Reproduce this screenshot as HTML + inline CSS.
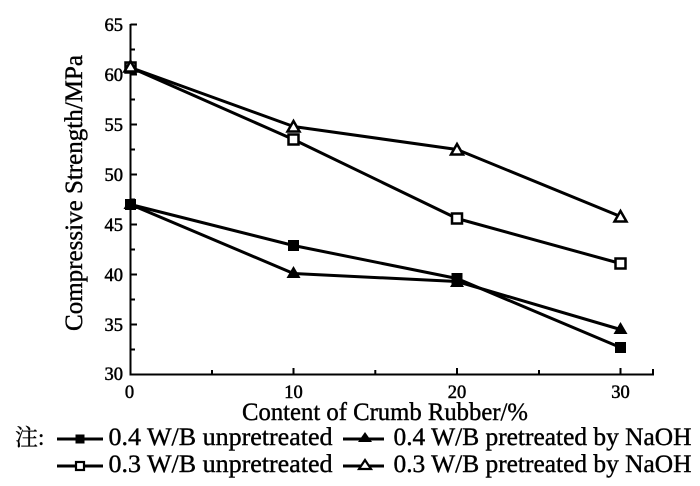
<!DOCTYPE html>
<html>
<head>
<meta charset="utf-8">
<style>
  html,body{margin:0;padding:0;background:#fff;}
  svg{display:block;}
  text{font-family:"Liberation Serif","Noto Serif CJK SC",serif;fill:#000;}
</style>
</head>
<body>
<svg width="700" height="486" viewBox="0 0 700 486" xmlns="http://www.w3.org/2000/svg">
  <rect width="700" height="486" fill="#fff"/>

  <!-- axes -->
  <g stroke="#000" stroke-width="2" fill="none">
    <line x1="130.5" y1="24" x2="130.5" y2="375"/>
    <line x1="129.5" y1="374.5" x2="654" y2="374.5"/>
    <line x1="130.5" y1="24.5" x2="137" y2="24.5"/>
    <line x1="130.5" y1="74.5" x2="137" y2="74.5"/>
    <line x1="130.5" y1="124.5" x2="137" y2="124.5"/>
    <line x1="130.5" y1="174.5" x2="137" y2="174.5"/>
    <line x1="130.5" y1="224.5" x2="137" y2="224.5"/>
    <line x1="130.5" y1="274.5" x2="137" y2="274.5"/>
    <line x1="130.5" y1="324.5" x2="137" y2="324.5"/>
    <line x1="130.5" y1="49.5" x2="135" y2="49.5"/>
    <line x1="130.5" y1="99.5" x2="135" y2="99.5"/>
    <line x1="130.5" y1="149.5" x2="135" y2="149.5"/>
    <line x1="130.5" y1="199.5" x2="135" y2="199.5"/>
    <line x1="130.5" y1="249.5" x2="135" y2="249.5"/>
    <line x1="130.5" y1="299.5" x2="135" y2="299.5"/>
    <line x1="130.5" y1="349.5" x2="135" y2="349.5"/>
    <line x1="293.5" y1="374.5" x2="293.5" y2="368"/>
    <line x1="457" y1="374.5" x2="457" y2="368"/>
    <line x1="620.5" y1="374.5" x2="620.5" y2="368"/>
    <line x1="212" y1="374.5" x2="212" y2="370"/>
    <line x1="375.3" y1="374.5" x2="375.3" y2="370"/>
    <line x1="539" y1="374.5" x2="539" y2="370"/>
    <line x1="653" y1="375" x2="653" y2="369"/>
  </g>

  <!-- y tick labels -->
  <g font-size="18.5" text-anchor="end" stroke="#000" stroke-width="0.5">
    <text x="123" y="31">65</text>
    <text x="123" y="81">60</text>
    <text x="123" y="131">55</text>
    <text x="123" y="181">50</text>
    <text x="123" y="231">45</text>
    <text x="123" y="281">40</text>
    <text x="123" y="331">35</text>
    <text x="123" y="380">30</text>
  </g>
  <!-- x tick labels -->
  <g font-size="18.5" text-anchor="middle" stroke="#000" stroke-width="0.5">
    <text x="129.5" y="398">0</text>
    <text x="293.5" y="398">10</text>
    <text x="457" y="398">20</text>
    <text x="620.5" y="398">30</text>
  </g>

  <!-- axis titles -->
  <g stroke="#000" stroke-width="0.35">
    <text transform="translate(242,420) scale(1,1.12)" x="0" y="0" font-size="23" textLength="286" lengthAdjust="spacingAndGlyphs">Content of Crumb Rubber/%</text>
    <text transform="translate(82,331) rotate(-90) scale(1,1.12)" x="0" y="0" font-size="23" textLength="276" lengthAdjust="spacingAndGlyphs">Compressive Strength/MPa</text>
  </g>

  <!-- series lines -->
  <g stroke="#000" stroke-width="3" fill="none" stroke-linejoin="round">
    <polyline points="130.5,67.5 293.5,139.5 457,218.5 620.5,263.5"/>
    <polyline points="130.5,67.5 293.5,126.5 457,149.5 620.5,216.5"/>
    <polyline points="130.5,204.5 293.5,273.5 457,281.5 620.5,329.5"/>
    <polyline points="130.5,204.5 293.5,245.5 457,278.5 620.5,347.5"/>
  </g>

  <!-- filled triangles -->
  <g fill="#000">
    <polygon points="130.5,197 137.5,209 123.5,209"/>
    <polygon points="293.5,266 300.5,278 286.5,278"/>
    <polygon points="457,275 464,287 450,287"/>
    <polygon points="620.5,322 627.5,334 613.5,334"/>
  </g>
  <!-- filled squares -->
  <g fill="#000">
    <rect x="125" y="199" width="11" height="11"/>
    <rect x="288" y="240" width="11" height="11"/>
    <rect x="451.5" y="273" width="11" height="11"/>
    <rect x="615" y="342" width="11" height="11"/>
  </g>
  <!-- open squares -->
  <g fill="#fff" stroke="#000" stroke-width="2.5">
    <rect x="125.5" y="62.5" width="10" height="10"/>
    <rect x="288.5" y="134.5" width="10" height="10"/>
    <rect x="452" y="213.5" width="10" height="10"/>
    <rect x="615.5" y="258.5" width="10" height="10"/>
  </g>
  <!-- open triangles -->
  <g fill="#fff" stroke="#000" stroke-width="2.5" stroke-linejoin="miter">
    <polygon points="130.5,61 136.5,71.5 124.5,71.5"/>
    <polygon points="293.5,121 299.5,131.5 287.5,131.5"/>
    <polygon points="457,144 463,154.5 451,154.5"/>
    <polygon points="620.5,211 626.5,221.5 614.5,221.5"/>
  </g>

  <!-- legend -->
  <text x="15" y="445" font-size="23" stroke="#000" stroke-width="0.3">注:</text>
  <g stroke="#000" stroke-width="3">
    <line x1="57" y1="439" x2="103" y2="439"/>
    <line x1="343" y1="439" x2="384" y2="439"/>
    <line x1="57" y1="466" x2="103" y2="466"/>
    <line x1="343" y1="466" x2="384" y2="466"/>
  </g>
  <rect x="75.5" y="434.5" width="9" height="9" fill="#000"/>
  <polygon points="365,432 372,442 358,442" fill="#000"/>
  <rect x="76" y="462" width="8" height="8" fill="#fff" stroke="#000" stroke-width="2.2"/>
  <polygon points="365,460 371,469 359,469" fill="#fff" stroke="#000" stroke-width="2.2"/>

  <g font-size="23" stroke="#000" stroke-width="0.35">
    <text transform="translate(108.5,445) scale(1,1.12)" textLength="224" lengthAdjust="spacingAndGlyphs">0.4 W/B unpretreated</text>
    <text transform="translate(393.5,445) scale(1,1.12)" textLength="298" lengthAdjust="spacingAndGlyphs">0.4 W/B pretreated by NaOH</text>
    <text transform="translate(108.5,472) scale(1,1.12)" textLength="224" lengthAdjust="spacingAndGlyphs">0.3 W/B unpretreated</text>
    <text transform="translate(393.5,472) scale(1,1.12)" textLength="298" lengthAdjust="spacingAndGlyphs">0.3 W/B pretreated by NaOH</text>
  </g>
</svg>
</body>
</html>
